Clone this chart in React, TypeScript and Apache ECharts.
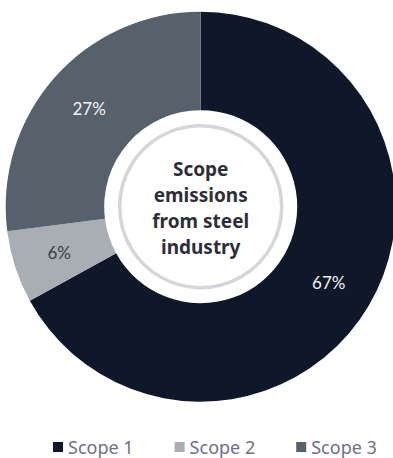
import React, { useEffect, useRef } from "react";
import * as echarts from "echarts";

const categories = ["Scope 1", "Scope 2", "Scope 3"];
const values = [67, 6, 27];
const colors = ["#0e1829", "#a8aeb3", "#56616c"];
const labelColors = ["#f2f2f2", "#3a3f46", "#f2f2f2"];
const centerTitle = "Scope\nemissions\nfrom steel\nindustry";

export default function App() {
  const ref = useRef<HTMLDivElement>(null);
  useEffect(() => {
    document.body.style.margin = "0";
    const chart = echarts.init(ref.current!, null, { renderer: "svg" });
    const cx = 200.7;
    const cy = 206.7;
    chart.setOption({
      animation: false,
      backgroundColor: "#ffffff",
      legend: {
        data: categories,
        left: 48,
        top: 432,
        padding: 5,
        itemWidth: 10,
        itemHeight: 10,
        itemGap: 41,
        icon: "rect",
        textStyle: {
          fontFamily: "Noto Sans",
          fontSize: 18,
          lineHeight: 20,
          color: "#6e6e87",
        },
      },
      graphic: [
        {
          type: "circle",
          shape: { cx, cy, r: 81 },
          style: { fill: "none", stroke: "#d5d5dc", lineWidth: 3.5 },
          silent: true,
        },
        {
          type: "text",
          x: cx,
          y: cy + 1,
          style: {
            text: centerTitle,
            align: "center",
            verticalAlign: "middle",
            fontFamily: "Noto Sans",
            fontWeight: "bold",
            fontSize: 19,
            lineHeight: 26,
            fill: "#2e2e38",
          },
          silent: true,
        },
      ],
      series: [
        {
          type: "pie",
          center: [cx, cy],
          radius: [96.5, 195],
          startAngle: 90,
          clockwise: true,
          avoidLabelOverlap: false,
          itemStyle: { borderWidth: 0 },
          label: {
            show: true,
            position: "inside",
            formatter: "{c}%",
            fontFamily: "Lato",
            fontSize: 17,
          },
          labelLine: { show: false },
          data: categories.map((name, i) => ({
            name,
            value: values[i],
            itemStyle: { color: colors[i] },
            label: { color: labelColors[i] },
          })),
        },
      ],
    });
    return () => chart.dispose();
  }, []);
  return <div ref={ref} style={{ width: 393, height: 458 }} />;
}
